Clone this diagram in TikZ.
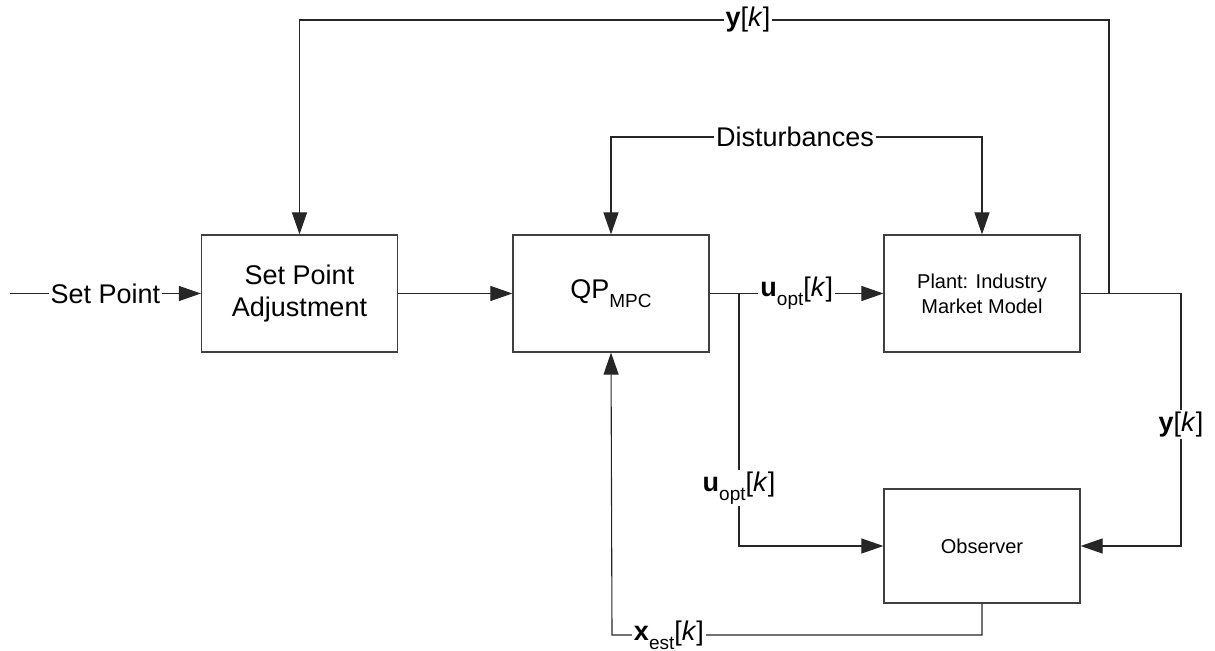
\documentclass[tikz,border=0pt]{standalone}
\usepackage{fontspec}
\setmainfont{Liberation Sans}
\usetikzlibrary{arrows.meta}
\newcommand{\mysubtext}[1]{\raisebox{-0.32em}{\fontsize{9.5pt}{10pt}\selectfont #1}}
\tikzset{
  blk/.style={draw=black!75, line width=0.6pt, minimum width=98pt, minimum height=58.5pt, inner sep=0pt, align=center},
  big/.style={font=\fontsize{13.5pt}{16pt}\selectfont},
  small/.style={font=\fontsize{10pt}{12.5pt}\selectfont},
  wire/.style={draw=black!85, line width=0.55pt},
  arr/.style={wire, -{Triangle[length=11pt,width=7.5pt]}},
  lab/.style={big, fill=white, inner xsep=1pt, inner ysep=1pt, anchor=center},
}
\begin{document}
\begin{tikzpicture}[x=0.5pt,y=-0.5pt]
\useasboundingbox (0,0) rectangle (1215,651);
% blocks
\node[blk,big] (spa) at (299.5,293.5) {Set Point\\Adjustment};
\node[blk,big] (qp) at (611,293.5) {QP\mysubtext{MPC}};
\node[blk,small] (plant) at (982,293.5) {Plant: Industry\\Market Model};
\node[blk,small, minimum height=57pt] (obs) at (982,546) {Observer};
% coordinates
\coordinate (sp) at (10,293.5);
\coordinate (j1) at (739,293.5);
\coordinate (j1b) at (739,546);
\coordinate (j2) at (1109,293.5);
\coordinate (r1) at (1181,293.5);
\coordinate (r2) at (1181,546);
\coordinate (t1) at (1109,20);
\coordinate (t2) at (299.5,20);
\coordinate (b1) at (982,635);
\coordinate (b2) at (612,635);
% set point
\draw[arr] (sp) -- node[lab,pos=0.5]{Set Point} (spa.west);
\draw[arr] (spa.east) -- (qp.west);
% QP out
\draw[wire] (qp.east) -- (j1);
\draw[arr] (j1) -- node[lab,pos=0.4]{\textbf{u}\mysubtext{opt}[\textit{k}]} (plant.west);
\draw[arr] (j1) -- node[lab,pos=0.77]{\textbf{u}\mysubtext{opt}[\textit{k}]} (j1b) -- (obs.west);
% plant out
\draw[arr] (plant.east) -- (r1) -- node[lab,pos=0.52]{\textbf{y}[\textit{k}]} (r2) -- (obs.east);
\draw[arr] (j2) -- (t1) -- node[lab,pos=0.446]{\textbf{y}[\textit{k}]} (t2) -- (spa.north);
% disturbances
\node[lab] (dist) at (795,137) {Disturbances};
\draw[arr] (dist.west) -| (qp.north);
\draw[arr] (dist.east) -| (plant.north);
% observer feedback
\draw[arr] (obs.south) -- (b1) -- node[lab,pos=0.846]{\textbf{x}\mysubtext{est}[\textit{k}]} (b2) -- (qp.south);
\end{tikzpicture}
\end{document}
